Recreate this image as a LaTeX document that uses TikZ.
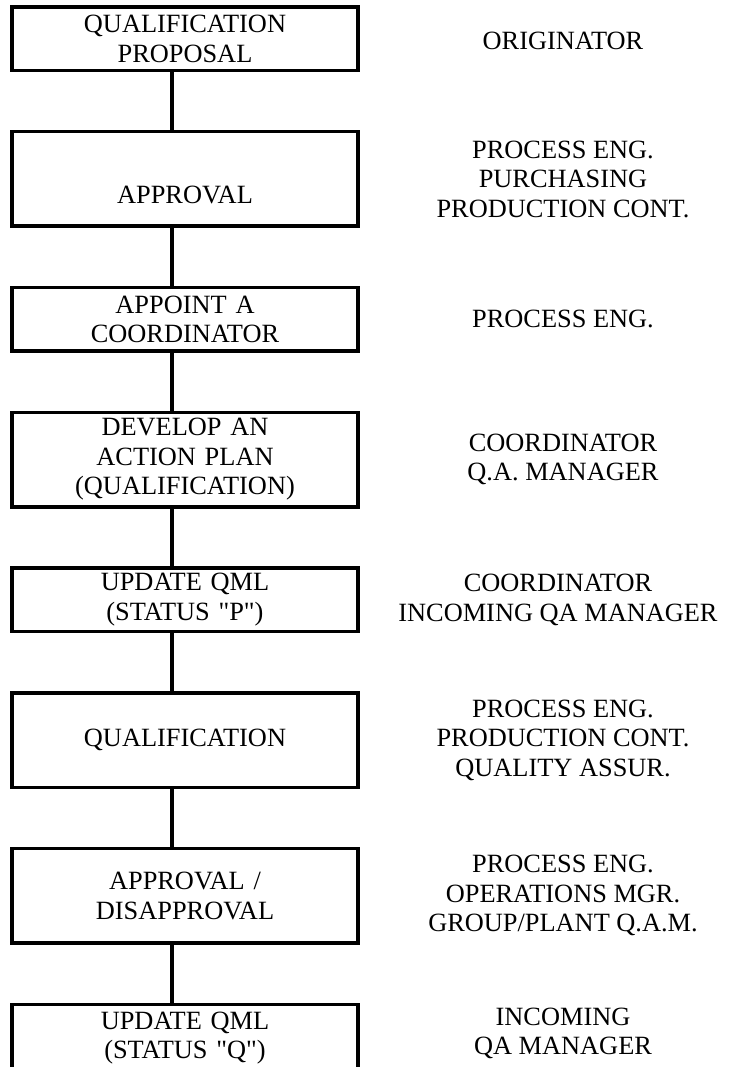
\documentclass[tikz,border=0pt]{standalone}
\usepackage{fontspec}
\setmainfont{Liberation Serif}
\usetikzlibrary{positioning}

\begin{document}
\begin{tikzpicture}[
    node distance=1.225cm,
    block/.style={rectangle, draw, line width=0.07cm, minimum width=6.92cm, text width=6.8cm, align=center, inner sep=0pt, outer sep=0pt, font=\fontsize{15}{16.8}\selectfont},
    short/.style={block, minimum height=1.27cm},
    tall/.style={block, minimum height=1.89cm},
    link/.style={line width=0.07cm},
    role/.style={font=\fontsize{15}{16.8}\selectfont, align=center}
]
    \useasboundingbox (0,0) rectangle (14.58,-21.34);
    \coordinate (spine) at (3.44,0);
    \coordinate (rolecol) at (11.26,0);

    % Nodes
    \node[short, anchor=north] (proposal) at (3.70,-0.14) {QUALIFICATION\\PROPOSAL};
    \node[tall, below=of proposal, text height=1cm, text depth=0pt] (approval) {APPROVAL};
    \node[short, below=of approval] (appoint) {APPOINT A\\COORDINATOR};
    \node[tall, below=of appoint] (plan) {DEVELOP AN\\ACTION PLAN\\(QUALIFICATION)};
    \node[short, below=of plan] (qmlp) {UPDATE QML\\(STATUS \textquotedbl P\textquotedbl)};
    \node[tall, below=of qmlp] (qualif) {QUALIFICATION};
    \node[tall, below=of qualif] (decision) {APPROVAL /\\DISAPPROVAL};
    \node[short, minimum height=1.36cm, below=of decision] (qmlq) {UPDATE QML\\(STATUS \textquotedbl Q\textquotedbl)};

    % Lines
    \draw[link] (proposal.south -| spine) -- (approval.north -| spine);
    \draw[link] (approval.south -| spine) -- (appoint.north -| spine);
    \draw[link] (appoint.south -| spine) -- (plan.north -| spine);
    \draw[link] (plan.south -| spine) -- (qmlp.north -| spine);
    \draw[link] (qmlp.south -| spine) -- (qualif.north -| spine);
    \draw[link] (qualif.south -| spine) -- (decision.north -| spine);
    \draw[link] (decision.south -| spine) -- (qmlq.north -| spine);

    % Responsibilities
    \node[role, yshift=-0.5mm] (proposalwho) at (proposal -| rolecol) {ORIGINATOR};
    \node[role] (approvalwho) at (approval -| rolecol) {PROCESS ENG.\\PURCHASING\\PRODUCTION CONT.};
    \node[role] (appointwho) at (appoint -| rolecol) {PROCESS ENG.};
    \node[role] (planwho) at (plan -| rolecol) {COORDINATOR\\Q.A. MANAGER};
    \node[role, xshift=-1mm] (qmlpwho) at (qmlp -| rolecol) {COORDINATOR\\INCOMING QA MANAGER};
    \node[role] (qualifwho) at (qualif -| rolecol) {PROCESS ENG.\\PRODUCTION CONT.\\QUALITY ASSUR.};
    \node[role] (decisionwho) at (decision -| rolecol) {PROCESS ENG.\\OPERATIONS MGR.\\GROUP/PLANT Q.A.M.};
    \node[role, yshift=1mm] (qmlqwho) at (qmlq -| rolecol) {INCOMING\\QA MANAGER};
\end{tikzpicture}
\end{document}
